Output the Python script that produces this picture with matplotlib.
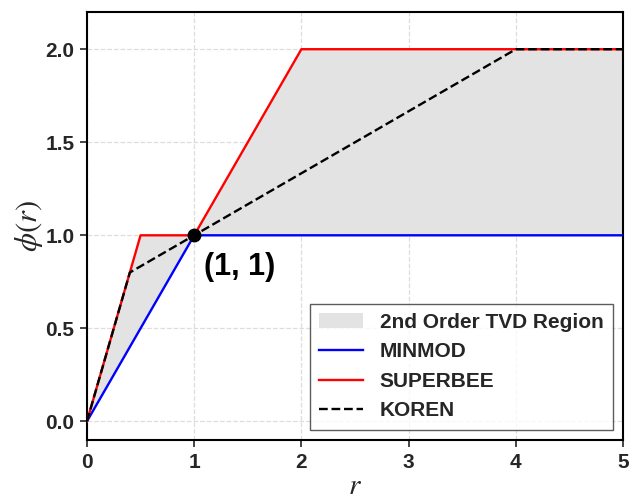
import numpy as np
import matplotlib
matplotlib.use("Agg")
import matplotlib.pyplot as plt

# Data (limiter breakpoints)
minmod_r = [0, 1, 5]
minmod_phi = [0, 1, 1]
superbee_r = [0, 0.5, 1, 2, 5]
superbee_phi = [0, 1, 1, 2, 2]
koren_r = [0, 0.4, 4, 5]
koren_phi = [0, 0.8, 2, 2]
point_r = [1]
point_phi = [1]

plt.rcParams['font.family'] = ['Liberation Sans', 'DejaVu Sans']
plt.rcParams['mathtext.fontset'] = 'stix'
text_color = '#262626'

fig = plt.figure(figsize=(6.3, 5), dpi=100)
ax = fig.add_axes([0.138, 0.12, 0.851, 0.856])

grid = np.linspace(0, 5, 1001)
lo = np.interp(grid, minmod_r, minmod_phi)
hi = np.interp(grid, superbee_r, superbee_phi)
ax.fill_between(grid, lo, hi, color='#e3e3e3', linewidth=0, label='2nd Order TVD Region', zorder=1)
ax.plot(minmod_r, minmod_phi, color='blue', lw=1.7, label='MINMOD', zorder=3)
ax.plot(superbee_r, superbee_phi, color='red', lw=1.7, label='SUPERBEE', zorder=3)
ax.plot(koren_r, koren_phi, color='black', lw=1.7, ls='--', label='KOREN', zorder=4)
ax.plot(point_r, point_phi, 'o', color='black', ms=9, zorder=5)
ax.text(1.09, 0.83, '(1, 1)', fontsize=22, fontweight='bold', color='black', va='center', ha='left')

ax.set_xlim(0, 5)
ax.set_ylim(-0.1, 2.2)
ax.set_xticks([0, 1, 2, 3, 4, 5])
ax.set_yticks([0.0, 0.5, 1.0, 1.5, 2.0])
ax.set_yticklabels(['0.0', '0.5', '1.0', '1.5', '2.0'])
ax.grid(True, ls='--', color='#dddddd', lw=0.9, zorder=0)
ax.set_axisbelow(True)
for s in ax.spines.values():
    s.set_linewidth(1.5)
    s.set_color('black')
ax.tick_params(axis='both', direction='out', length=5, width=1.2, labelsize=15, colors=text_color, pad=4)
for lbl in ax.get_xticklabels() + ax.get_yticklabels():
    lbl.set_fontweight('bold')
ax.set_xlabel(r'$r$', fontsize=21, color=text_color, labelpad=0)
ax.set_ylabel(r'$\phi(r)$', fontsize=22, color=text_color, labelpad=0)

leg = ax.legend(loc='lower right', prop={'weight': 'bold', 'size': 15},
                frameon=True, fancybox=False, edgecolor='#333333', handlelength=2.1,
                borderpad=0.45, labelspacing=0.5, borderaxespad=0.5)
leg.get_frame().set_linewidth(1.0)
for t in leg.get_texts():
    t.set_color(text_color)

fig.savefig('out.png', dpi=100)
